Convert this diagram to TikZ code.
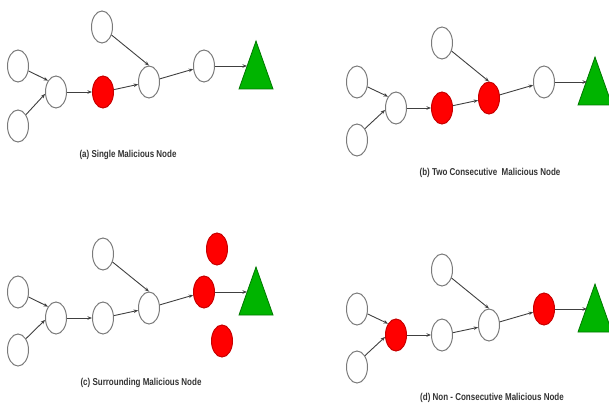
\documentclass[tikz,border=0pt]{standalone}
\usepackage{fontspec}
\newfontfamily\capfont{Liberation Sans}[FakeStretch=0.8]
\usetikzlibrary{shapes.geometric,arrows.meta}
\definecolor{nodeedge}{HTML}{7A7A7A}
\definecolor{arrowc}{HTML}{404040}
\definecolor{malred}{HTML}{FF0000}
\definecolor{malredb}{HTML}{C80000}
\definecolor{sinkg}{HTML}{00B400}
\definecolor{sinkgb}{HTML}{007800}
\tikzset{
  plain/.style={ellipse,draw=nodeedge,line width=1pt,fill=white,minimum width=21pt,minimum height=32pt,inner sep=0pt},
  mal/.style={plain,draw=malredb,fill=malred},
  sinktri/.style={draw=sinkgb,line width=0.8pt,fill=sinkg},
  link/.style={draw=arrowc,line width=0.9pt,-{Stealth[length=4.5pt,width=3.5pt]}},
  caption/.style={font=\capfont\bfseries\fontsize{10}{11}\selectfont,text=black!80,inner sep=0pt}
}
\begin{document}
\begin{tikzpicture}[x=1pt,y=-1pt]
\useasboundingbox (0,0) rectangle (609,406);
% ---------- (a)
\node[plain] (a1) at (18,66) {};
\node[plain] (a2) at (18,126) {};
\node[plain] (a3) at (56,92) {};
\node[mal]   (a4) at (103,92) {};
\node[plain] (at) at (102,27) {};
\node[plain] (a5) at (149,82) {};
\node[plain] (a6) at (204,66) {};
\draw[sinktri] (256,41) -- (273,89) -- (239,89) -- cycle;
\coordinate (as) at (247,66);
\draw[link] (a1.-25) -- (a3.125);
\draw[link] (a2.55) -- (a3.190);
\draw[link] (a3) -- (a4);
\draw[link] (a4) -- (a5);
\draw[link] (at.-40) -- (a5.north);
\draw[link] (a5) -- (a6);
\draw[link] (a6) -- (as);
\node[caption] (ca) at (128,155) {(a) Single Malicious Node};
% ---------- (b)
\node[plain] (b1) at (357,82) {};
\node[plain] (b2) at (357,140) {};
\node[plain] (b3) at (396,108) {};
\node[mal]   (b4) at (442,108) {};
\node[mal]   (b5) at (489,98) {};
\node[plain] (bt) at (442,43) {};
\node[plain] (b6) at (544,82) {};
\draw[sinktri] (595,57) -- (612,105) -- (578,105) -- cycle;
\coordinate (bs) at (587,82);
\draw[link] (b1.-25) -- (b3.125);
\draw[link] (b2.55) -- (b3.190);
\draw[link] (b3) -- (b4);
\draw[link] (b4) -- (b5);
\draw[link] (bt.-40) -- (b5.north);
\draw[link] (b5) -- (b6);
\draw[link] (b6) -- (bs);
\node[caption] (cb) at (490,173) {(b) Two Consecutive\ \ Malicious Node};
% ---------- (c)
\node[plain] (c1) at (18,292) {};
\node[plain] (c2) at (18,350) {};
\node[plain] (c3) at (56,318) {};
\node[plain] (c4) at (103,318) {};
\node[plain] (ct) at (103,254) {};
\node[plain] (c5) at (149,308) {};
\node[mal]   (c6) at (204,292) {};
\node[mal]   (c7) at (217,249) {};
\node[mal]   (c8) at (222,341) {};
\draw[sinktri] (256,267) -- (273,315) -- (239,315) -- cycle;
\coordinate (cs) at (247,292);
\draw[link] (c1.-25) -- (c3.125);
\draw[link] (c2.55) -- (c3.190);
\draw[link] (c3) -- (c4);
\draw[link] (c4) -- (c5);
\draw[link] (ct.-40) -- (c5.north);
\draw[link] (c5) -- (c6);
\draw[link] (c6) -- (cs);
\node[caption] (cc) at (141,383) {(c) Surrounding Malicious Node};
% ---------- (d)
\node[plain] (d1) at (357,309) {};
\node[plain] (d2) at (357,367) {};
\node[mal]   (d3) at (396,335) {};
\node[plain] (d4) at (442,335) {};
\node[plain] (dt) at (442,270) {};
\node[plain] (d5) at (489,325) {};
\node[mal]   (d6) at (544,309) {};
\draw[sinktri] (595,284) -- (612,332) -- (578,332) -- cycle;
\coordinate (ds) at (587,309);
\draw[link] (d1.-25) -- (d3.125);
\draw[link] (d2.55) -- (d3.190);
\draw[link] (d3) -- (d4);
\draw[link] (d4) -- (d5);
\draw[link] (dt.-40) -- (d5.north);
\draw[link] (d5) -- (d6);
\draw[link] (d6) -- (ds);
\node[caption] (cd) at (492,398) {(d) Non - Consecutive Malicious Node};
\end{tikzpicture}
\end{document}
